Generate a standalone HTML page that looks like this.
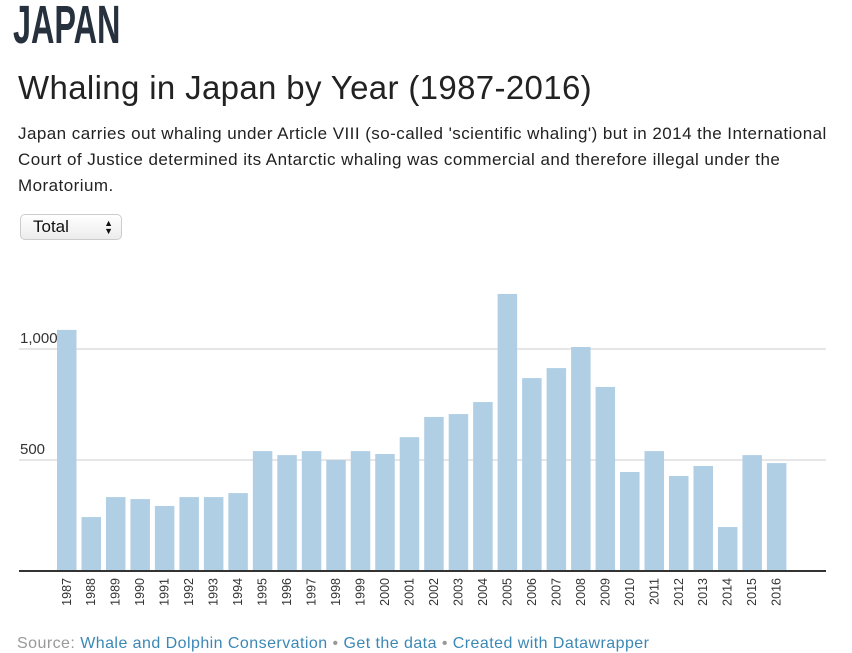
<!DOCTYPE html>
<html><head><meta charset="utf-8"><style>
body{margin:0;background:#fff;width:852px;height:653px;overflow:hidden;font-family:"Liberation Sans",sans-serif;position:relative}
.abs{position:absolute}
</style></head><body>
<div class="abs" style="left:13px;top:-3px;font-family:'Liberation Sans Narrow','Liberation Sans',sans-serif;font-weight:bold;font-size:54px;color:#26313d;line-height:56px;transform:scaleX(0.6);transform-origin:0 0">JAPAN</div>
<div class="abs" style="left:18px;top:68px;font-size:33px;letter-spacing:0.35px;color:#222;line-height:40px;white-space:nowrap">Whaling in Japan by Year (1987-2016)</div>
<div class="abs" style="left:18px;top:121px;width:815px;font-size:17px;letter-spacing:0.45px;line-height:26px;color:#222">Japan carries out whaling under Article VIII (so-called 'scientific whaling') but in 2014 the International Court of Justice determined its Antarctic whaling was commercial and therefore illegal under the Moratorium.</div>
<div class="abs" style="left:20px;top:214px;width:102px;height:26px;border:1px solid #ccc;border-radius:5px;background:linear-gradient(#fff,#ececec);box-sizing:border-box;font-size:17px;line-height:24px;color:#111;padding-left:12px">Total<span style="position:absolute;right:8px;top:0;font-size:9px;line-height:8px;padding-top:4px">▲<br>▼</span></div>
<svg class="abs" style="left:0;top:0" width="852" height="653" id="chart"></svg>
<div class="abs" style="left:17px;top:635px;font-size:16px;letter-spacing:0.45px;color:#999;white-space:nowrap">Source: <span style="color:#3b88b5">Whale and Dolphin Conservation</span> • <span style="color:#3b88b5">Get the data</span> • <span style="color:#3b88b5">Created with Datawrapper</span></div>
<script>
const years=[1987,1988,1989,1990,1991,1992,1993,1994,1995,1996,1997,1998,1999,2000,2001,2002,2003,2004,2005,2006,2007,2008,2009,2010,2011,2012,2013,2014,2015,2016];
const values=[1086,243,333,324,293,333,333,351,540,522,540,500,540,527,603,694,707,761,1248,869,914,1009,829,446,540,428,473,198,522,486];
const ticks=[500,1000];
const tickLabels=["500","1,000"];
const NS="http://www.w3.org/2000/svg";
const svg=document.getElementById('chart');
const y0=571,pxPer=111/500;
const yS=v=>y0-v*pxPer;
const xS=i=>57+i*24.48;
const bw=19.5;
function mk(t,a){const e=document.createElementNS(NS,t);for(const k in a)e.setAttribute(k,a[k]);svg.appendChild(e);return e;}
ticks.forEach((t,i)=>{
 const l=mk('line',{x1:19,x2:826,y1:yS(t),y2:yS(t),stroke:'#ddd','stroke-width':1.5});
 
 
});
values.forEach((v,i)=>{
 const r=mk('rect',{x:xS(i),y:yS(v),width:bw,height:v*pxPer,fill:'#b0cfe5'});
 
 
 const t=mk('text',{x:0,y:0,transform:`translate(${xS(i)+bw/2+4},${578}) rotate(-90)`,'text-anchor':'end','font-size':12.5,fill:'#333','font-family':'Liberation Sans, sans-serif'});
 t.textContent=years[i];
 
 
});
ticks.forEach((t,i)=>{
 const tx=mk('text',{x:20,y:yS(t)-6,'font-size':15,fill:'#333','font-family':'Liberation Sans, sans-serif'});
 tx.textContent=tickLabels[i];
 
 
});
const ax=mk('line',{x1:19,x2:826,y1:y0,y2:y0,stroke:'#333','stroke-width':2});


</script>
</body></html>
